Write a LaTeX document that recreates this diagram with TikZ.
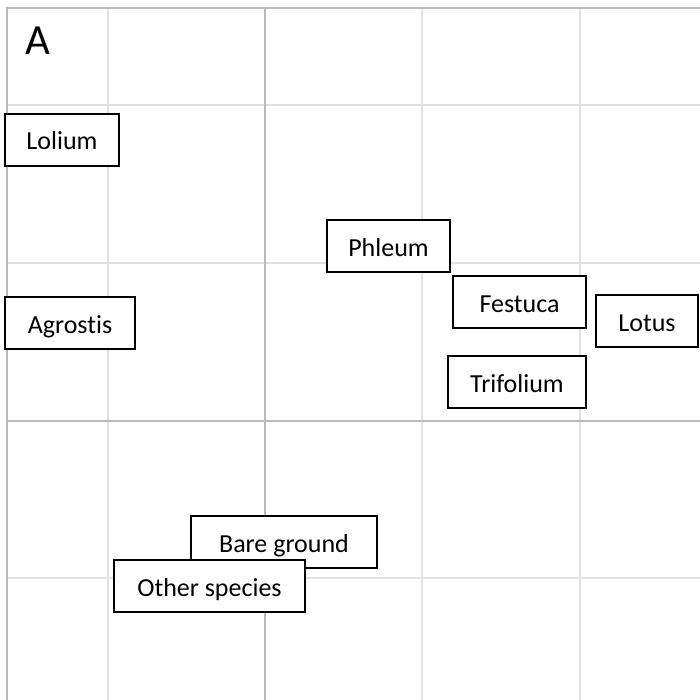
\documentclass[tikz,border=0pt]{standalone}
\usepackage{fontspec}
\setmainfont[Ligatures=NoCommon]{Carlito}
\definecolor{gridlight}{RGB}{225,225,225}
\definecolor{griddark}{RGB}{185,185,185}
\begin{document}
\begin{tikzpicture}[x=1pt,y=-1pt,
  lbl/.style={draw=black,line width=1.5pt,fill=white,inner sep=0pt,
    font=\fontsize{26}{28}\selectfont,text height=22pt,text depth=2pt},
  thin grid/.style={gridlight,line width=2pt},
  thick grid/.style={griddark,line width=2pt}]
\useasboundingbox (0,0) rectangle (700,700);
\fill[white] (0,0) rectangle (700,700);
% light grid
\foreach \x in {108,422,580} \draw[thin grid] (\x,8) -- (\x,700);
\foreach \y in {105,263,578} \draw[thin grid] (7,\y) -- (700,\y);
% axes
\draw[thick grid] (265,8) -- (265,700);
\draw[thick grid] (7,421) -- (700,421);
% border
\draw[thick grid] (7,700) -- (7,8) -- (700,8);
\node[font=\fontsize{43}{45}\selectfont,anchor=base west] (title) at (22,55) {A};
\node[lbl,minimum width=114pt,minimum height=52pt] (lolium) at (62,140) {Lolium};
\node[lbl,minimum width=123pt,minimum height=52pt] (phleum) at (388.5,246) {Phleum};
\node[lbl,minimum width=133pt,minimum height=52pt] (festuca) at (519.5,302) {Festuca};
\node[lbl,minimum width=102pt,minimum height=52pt] (lotus) at (647,321) {Lotus};
\node[lbl,minimum width=138pt,minimum height=52pt] (trifolium) at (517,382) {Trifolium};
\node[lbl,minimum width=130pt,minimum height=52pt] (agrostis) at (70,323) {Agrostis};
\node[lbl,minimum width=186pt,minimum height=52pt] (bare) at (284,542) {Bare ground};
\node[lbl,minimum width=191pt,minimum height=52pt] (other) at (209.5,586) {Other species};
\end{tikzpicture}
\end{document}
